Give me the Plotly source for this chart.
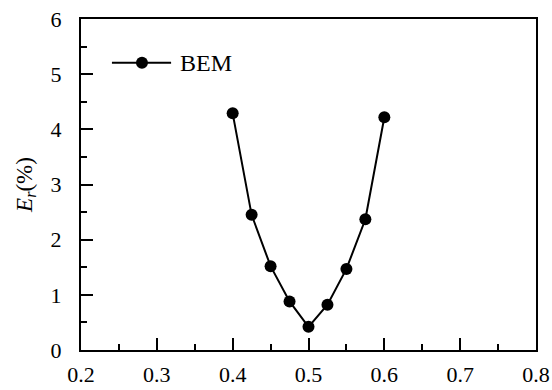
import plotly.graph_objects as go

x_vals = [0.4, 0.425, 0.45, 0.475, 0.5, 0.525, 0.55, 0.575, 0.6]
er_vals = [4.29, 2.45, 1.52, 0.88, 0.42, 0.82, 1.47, 2.37, 4.22]
series_name = "BEM"
x_ticks = [0.2, 0.3, 0.4, 0.5, 0.6, 0.7, 0.8]
y_ticks = [0, 1, 2, 3, 4, 5, 6]

font_family = "Liberation Serif, Times New Roman, Times, serif"

fig = go.Figure()
fig.add_trace(go.Scatter(
    x=x_vals, y=er_vals, mode="lines+markers", name=series_name,
    line=dict(color="black", width=2),
    marker=dict(color="black", size=12, symbol="circle"),
    showlegend=False,
))

# legend key (drawn in paper coordinates)
leg_y = 0.868
fig.add_shape(type="line", xref="paper", yref="paper", x0=0.068, x1=0.198, y0=leg_y, y1=leg_y,
              line=dict(color="black", width=2))
fig.add_shape(type="circle", xref="paper", yref="paper", xsizemode="pixel", ysizemode="pixel",
              xanchor=0.134, yanchor=leg_y, x0=-6, x1=6, y0=-6, y1=6,
              fillcolor="black", line=dict(color="black", width=0))
fig.add_annotation(text=series_name, xref="paper", yref="paper", x=0.214, y=leg_y,
                   xanchor="left", yanchor="middle", showarrow=False,
                   font=dict(size=24, family=font_family, color="black"))

fig.update_layout(
    width=552, height=390,
    margin=dict(l=81, r=16, t=19, b=40),
    paper_bgcolor="white", plot_bgcolor="white",
    font=dict(family=font_family, size=22, color="black"),
    showlegend=False,
    xaxis=dict(
        range=[0.2, 0.8], tickvals=x_ticks, ticktext=[f"{v:.1f}" for v in x_ticks],
        ticks="inside", ticklen=12, tickwidth=1.5, tickcolor="black",
        showline=True, linecolor="black", linewidth=2, mirror=True,
        showgrid=False, zeroline=False, automargin=False, ticklabelstandoff=4,
        tickfont=dict(family=font_family, size=22),
        minor=dict(ticks="inside", ticklen=6, dtick=0.05, tickcolor="black", tickwidth=1.5, showgrid=False),
    ),
    yaxis=dict(
        range=[0, 6], tickvals=y_ticks,
        ticks="inside", ticklen=12, tickwidth=1.5, tickcolor="black",
        showline=True, linecolor="black", linewidth=2, mirror=True,
        showgrid=False, zeroline=False, automargin=False, ticklabelstandoff=13,
        tickfont=dict(family=font_family, size=22),
        minor=dict(ticks="inside", ticklen=6, dtick=0.5, tickcolor="black", tickwidth=1.5, showgrid=False),
        title=dict(text="<i>E</i><sub><i>r</i></sub>(%)", standoff=12,
                   font=dict(family=font_family, size=23)),
    ),
)

fig.write_html("out.html", config={"displayModeBar": False},
               post_script="document.body.style.margin='0';document.body.style.overflow='hidden';")
